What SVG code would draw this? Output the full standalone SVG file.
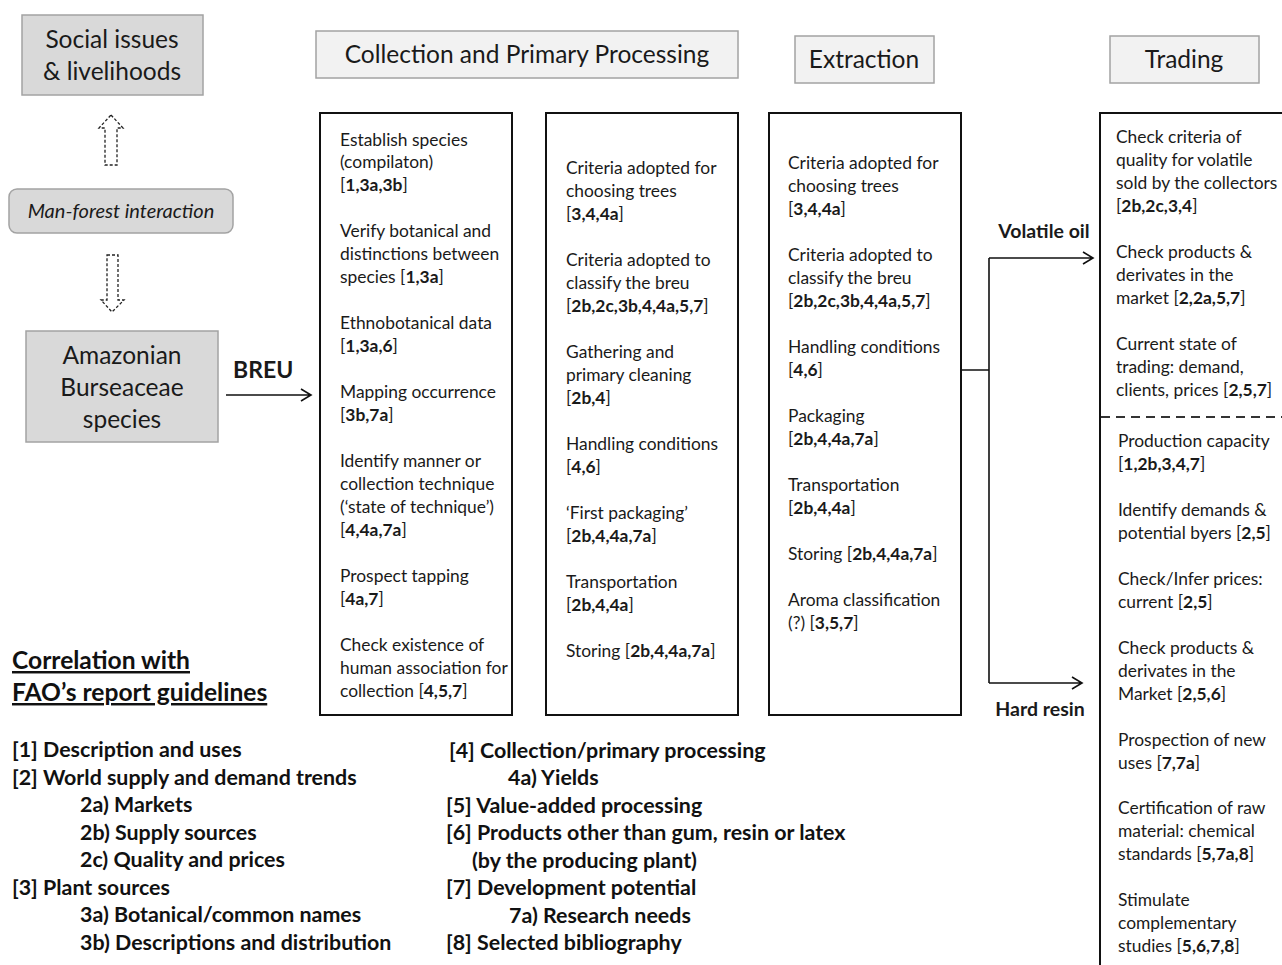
<svg xmlns="http://www.w3.org/2000/svg" width="1282" height="965" viewBox="0 0 1282 965">
<defs>
<style>
.t{font-family:Lato,"Liberation Sans",sans-serif;font-size:17.4px;fill:#1a1a1a}
.b{font-weight:bold}
.hd{font-family:Lato,"Liberation Sans",sans-serif;font-size:24.5px;fill:#1a1a1a;text-anchor:middle}
.lg{font-family:Lato,"Liberation Sans",sans-serif;font-size:21.4px;font-weight:bold;fill:#111}
.gbox{fill:#d9d9d9;stroke:#a3a3a3;stroke-width:1.5}
.hbox{fill:#f2f2f2;stroke:#a3a3a3;stroke-width:1.5}
.col{fill:#fff;stroke:#111;stroke-width:2}
.ln{fill:none;stroke:#111;stroke-width:1.6}
.dash{fill:#fff;stroke:#222;stroke-width:1.3;stroke-dasharray:3 2}
</style>
</defs>
<rect width="1282" height="965" fill="#fff"/>

<g id="social">
<rect class="gbox" x="22" y="15" width="181" height="80"/>
<text class="hd" x="112" y="48">Social issues</text>
<text class="hd" x="112" y="80">&amp; livelihoods</text>
</g>

<g id="manforest">
<rect class="gbox" x="9" y="189" width="224" height="44" rx="8"/>
<text class="hd" x="121" y="218" style="font-size:20px;font-style:italic">Man-forest interaction</text>
</g>

<g id="amazonian">
<rect class="gbox" x="26" y="331" width="192" height="111"/>
<text class="hd" x="122" y="364">Amazonian</text>
<text class="hd" x="122" y="396">Burseaceae</text>
<text class="hd" x="122" y="428">species</text>
</g>

<g id="hdr-collection">
<rect class="hbox" x="316" y="31" width="422" height="47"/>
<text class="hd" x="527" y="63">Collection and Primary Processing</text>
</g>
<g id="hdr-extraction">
<rect class="hbox" x="795" y="36" width="139" height="47"/>
<text class="hd" x="864" y="68">Extraction</text>
</g>
<g id="hdr-trading">
<rect class="hbox" x="1110" y="36" width="149" height="47"/>
<text class="hd" x="1184" y="68">Trading</text>
</g>

<g id="col-collection1">
<rect class="col" x="320" y="113" width="192" height="602"/>
<text class="t" x="340" y="146">Establish species</text>
<text class="t" x="340" y="168">(compilaton)</text>
<text class="t" x="340" y="191">[<tspan class="b">1,3a,3b</tspan>]</text>
<text class="t" x="340" y="237">Verify botanical and</text>
<text class="t" x="340" y="260">distinctions between</text>
<text class="t" x="340" y="283">species [<tspan class="b">1,3a</tspan>]</text>
<text class="t" x="340" y="329">Ethnobotanical data</text>
<text class="t" x="340" y="352">[<tspan class="b">1,3a,6</tspan>]</text>
<text class="t" x="340" y="398">Mapping occurrence</text>
<text class="t" x="340" y="421">[<tspan class="b">3b,7a</tspan>]</text>
<text class="t" x="340" y="467">Identify manner or</text>
<text class="t" x="340" y="490">collection technique</text>
<text class="t" x="340" y="513">(‘state of technique’)</text>
<text class="t" x="340" y="536">[<tspan class="b">4,4a,7a</tspan>]</text>
<text class="t" x="340" y="582">Prospect tapping</text>
<text class="t" x="340" y="605">[<tspan class="b">4a,7</tspan>]</text>
<text class="t" x="340" y="651">Check existence of</text>
<text class="t" x="340" y="674">human association for</text>
<text class="t" x="340" y="697">collection [<tspan class="b">4,5,7</tspan>]</text>
</g>

<g id="col-collection2">
<rect class="col" x="546" y="113" width="192" height="602"/>
<text class="t" x="566" y="174">Criteria adopted for</text>
<text class="t" x="566" y="197">choosing trees</text>
<text class="t" x="566" y="220">[<tspan class="b">3,4,4a</tspan>]</text>
<text class="t" x="566" y="266">Criteria adopted to</text>
<text class="t" x="566" y="289">classify the breu</text>
<text class="t" x="566" y="312">[<tspan class="b">2b,2c,3b,4,4a,5,7</tspan>]</text>
<text class="t" x="566" y="358">Gathering and</text>
<text class="t" x="566" y="381">primary cleaning</text>
<text class="t" x="566" y="404">[<tspan class="b">2b,4</tspan>]</text>
<text class="t" x="566" y="450">Handling conditions</text>
<text class="t" x="566" y="473">[<tspan class="b">4,6</tspan>]</text>
<text class="t" x="566" y="519">‘First packaging’</text>
<text class="t" x="566" y="542">[<tspan class="b">2b,4,4a,7a</tspan>]</text>
<text class="t" x="566" y="588">Transportation</text>
<text class="t" x="566" y="611">[<tspan class="b">2b,4,4a</tspan>]</text>
<text class="t" x="566" y="657">Storing [<tspan class="b">2b,4,4a,7a</tspan>]</text>
</g>

<g id="col-extraction">
<rect class="col" x="769" y="113" width="192" height="602"/>
<text class="t" x="788" y="169">Criteria adopted for</text>
<text class="t" x="788" y="192">choosing trees</text>
<text class="t" x="788" y="215">[<tspan class="b">3,4,4a</tspan>]</text>
<text class="t" x="788" y="261">Criteria adopted to</text>
<text class="t" x="788" y="284">classify the breu</text>
<text class="t" x="788" y="307">[<tspan class="b">2b,2c,3b,4,4a,5,7</tspan>]</text>
<text class="t" x="788" y="353">Handling conditions</text>
<text class="t" x="788" y="376">[<tspan class="b">4,6</tspan>]</text>
<text class="t" x="788" y="422">Packaging</text>
<text class="t" x="788" y="445">[<tspan class="b">2b,4,4a,7a</tspan>]</text>
<text class="t" x="788" y="491">Transportation</text>
<text class="t" x="788" y="514">[<tspan class="b">2b,4,4a</tspan>]</text>
<text class="t" x="788" y="560">Storing [<tspan class="b">2b,4,4a,7a</tspan>]</text>
<text class="t" x="788" y="606">Aroma classification</text>
<text class="t" x="788" y="629">(?) [<tspan class="b">3,5,7</tspan>]</text>
</g>

<g id="col-trading">
<path class="col" d="M1100,966 V113 H1284" fill="none"/>
<line x1="1101" y1="417" x2="1282" y2="417" stroke="#333" stroke-width="1.8" stroke-dasharray="9 6"/>
<text class="t" x="1116" y="143">Check criteria of</text>
<text class="t" x="1116" y="166">quality for volatile</text>
<text class="t" x="1116" y="189">sold by the collectors</text>
<text class="t" x="1116" y="212">[<tspan class="b">2b,2c,3,4</tspan>]</text>
<text class="t" x="1116" y="258">Check products &amp;</text>
<text class="t" x="1116" y="281">derivates in the</text>
<text class="t" x="1116" y="304">market [<tspan class="b">2,2a,5,7</tspan>]</text>
<text class="t" x="1116" y="350">Current state of</text>
<text class="t" x="1116" y="373">trading: demand,</text>
<text class="t" x="1116" y="396">clients, prices [<tspan class="b">2,5,7</tspan>]</text>
<text class="t" x="1118" y="447">Production capacity</text>
<text class="t" x="1118" y="470">[<tspan class="b">1,2b,3,4,7</tspan>]</text>
<text class="t" x="1118" y="516">Identify demands &amp;</text>
<text class="t" x="1118" y="539">potential byers [<tspan class="b">2,5</tspan>]</text>
<text class="t" x="1118" y="585">Check/Infer prices:</text>
<text class="t" x="1118" y="608">current [<tspan class="b">2,5</tspan>]</text>
<text class="t" x="1118" y="654">Check products &amp;</text>
<text class="t" x="1118" y="677">derivates in the</text>
<text class="t" x="1118" y="700">Market [<tspan class="b">2,5,6</tspan>]</text>
<text class="t" x="1118" y="746">Prospection of new</text>
<text class="t" x="1118" y="769">uses [<tspan class="b">7,7a</tspan>]</text>
<text class="t" x="1118" y="814">Certification of raw</text>
<text class="t" x="1118" y="837">material: chemical</text>
<text class="t" x="1118" y="860">standards [<tspan class="b">5,7a,8</tspan>]</text>
<text class="t" x="1118" y="906">Stimulate</text>
<text class="t" x="1118" y="929">complementary</text>
<text class="t" x="1118" y="952">studies [<tspan class="b">5,6,7,8</tspan>]</text>
</g>

<g id="connectors">
<polygon class="dash" points="111,115 123,128 117,128 117,165 105,165 105,128 99,128"/>
<polygon class="dash" points="107,255 118,255 118,300 124,300 112,312 101,300 107,300"/>
<path class="ln" d="M226,395 H311 M301,389 L311,395 L301,401"/>
<path class="ln" d="M962,370 H989 M989,258 V683 M989,258 H1093 M1083,252 L1093,258 L1083,264 M989,683 H1082 M1072,677 L1082,683 L1072,689"/>
<text class="t b" x="233" y="378" style="font-size:23px">BREU</text>
<text class="t b" x="1044" y="238" text-anchor="middle" style="font-size:19.5px">Volatile oil</text>
<text class="t b" x="1040" y="716" text-anchor="middle" style="font-size:19.5px">Hard resin</text>
</g>

<g id="legend">
<text class="lg" x="12" y="669" style="font-size:24.6px;text-decoration:underline">Correlation with</text>
<text class="lg" x="12" y="701" style="font-size:24.6px;text-decoration:underline">FAO’s report guidelines</text>
<text class="lg" x="12" y="757">[1] Description and uses</text>
<text class="lg" x="12" y="785">[2] World supply and demand trends</text>
<text class="lg" x="80" y="812">2a) Markets</text>
<text class="lg" x="80" y="840">2b) Supply sources</text>
<text class="lg" x="80" y="867">2c) Quality and prices</text>
<text class="lg" x="12" y="895">[3] Plant sources</text>
<text class="lg" x="80" y="922">3a) Botanical/common names</text>
<text class="lg" x="80" y="950">3b) Descriptions and distribution</text>
<text class="lg" x="449" y="758">[4] Collection/primary processing</text>
<text class="lg" x="508" y="785">4a) Yields</text>
<text class="lg" x="446" y="813">[5] Value-added processing</text>
<text class="lg" x="446" y="840">[6] Products other than gum, resin or latex</text>
<text class="lg" x="472" y="868">(by the producing plant)</text>
<text class="lg" x="446" y="895">[7] Development potential</text>
<text class="lg" x="509" y="923">7a) Research needs</text>
<text class="lg" x="446" y="950">[8] Selected bibliography</text>
</g>
</svg>
